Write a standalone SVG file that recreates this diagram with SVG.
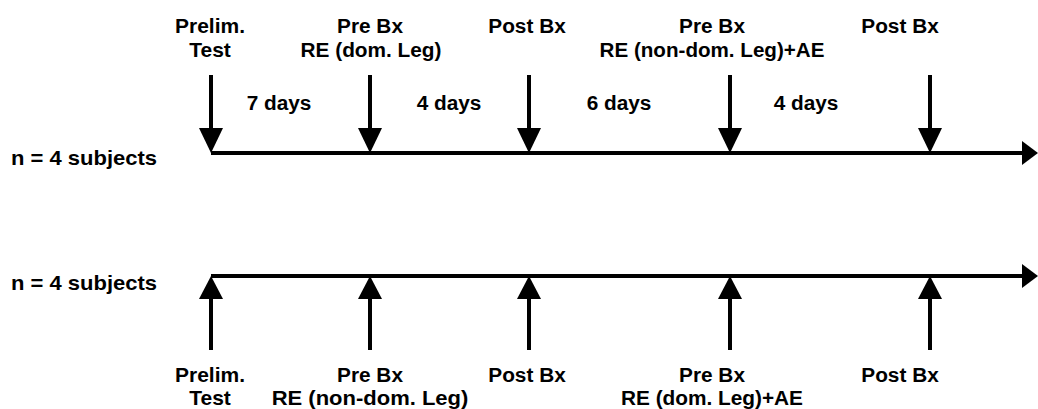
<svg xmlns="http://www.w3.org/2000/svg" width="1038" height="409" viewBox="0 0 1038 409">
<style>
text{font-family:"Liberation Sans",Arial,sans-serif;font-weight:bold;font-size:20px;fill:#000}
.c{text-anchor:middle}
.ln{stroke:#000;stroke-width:4;fill:none}
.hd{fill:#000}
</style>
<rect width="1038" height="409" fill="#fff"/>
<g id="connectors">
<line class="ln" x1="211" y1="153" x2="1025" y2="153"/>
<polygon class="hd" points="1022,141 1038,153 1022,165"/>
<line class="ln" x1="211" y1="276" x2="1025" y2="276"/>
<polygon class="hd" points="1022,264 1038,276 1022,288"/>
<g id="top-arrows">
<line class="ln" x1="211" y1="75" x2="211" y2="130"/><polygon class="hd" points="199,128 223,128 211,153"/>
<line class="ln" x1="370" y1="75" x2="370" y2="130"/><polygon class="hd" points="358,128 382,128 370,153"/>
<line class="ln" x1="529" y1="75" x2="529" y2="130"/><polygon class="hd" points="517,128 541,128 529,153"/>
<line class="ln" x1="730" y1="75" x2="730" y2="130"/><polygon class="hd" points="718,128 742,128 730,153"/>
<line class="ln" x1="930" y1="75" x2="930" y2="130"/><polygon class="hd" points="918,128 942,128 930,153"/>
</g>
<g id="bottom-arrows">
<line class="ln" x1="211" y1="350" x2="211" y2="298"/><polygon class="hd" points="199,299 223,299 211,276"/>
<line class="ln" x1="370" y1="350" x2="370" y2="298"/><polygon class="hd" points="358,299 382,299 370,276"/>
<line class="ln" x1="529" y1="350" x2="529" y2="298"/><polygon class="hd" points="517,299 541,299 529,276"/>
<line class="ln" x1="730" y1="350" x2="730" y2="298"/><polygon class="hd" points="718,299 742,299 730,276"/>
<line class="ln" x1="930" y1="350" x2="930" y2="298"/><polygon class="hd" points="918,299 942,299 930,276"/>
</g>
</g>
<g id="group1-label" transform="translate(11,165) scale(1.1,1)"><text>n = 4 subjects</text></g>
<g id="group2-label" transform="translate(11,290) scale(1.1,1)"><text>n = 4 subjects</text></g>
<g id="t1"><g transform="translate(210,33) scale(1.05,1)"><text class="c">Prelim.</text></g><g transform="translate(210,57) scale(1.05,1)"><text class="c">Test</text></g></g>
<g id="t2"><g transform="translate(370,33) scale(1.04,1)"><text class="c">Pre Bx</text></g><g transform="translate(371,57) scale(1.04,1)"><text class="c">RE (dom. Leg)</text></g></g>
<g id="t3"><g transform="translate(527,33) scale(1.04,1)"><text class="c">Post Bx</text></g></g>
<g id="t4"><g transform="translate(712,33) scale(1.04,1)"><text class="c">Pre Bx</text></g><g transform="translate(712,57) scale(1.03,1)"><text class="c">RE (non-dom. Leg)+AE</text></g></g>
<g id="t5"><g transform="translate(900,33) scale(1.04,1)"><text class="c">Post Bx</text></g></g>
<g id="d1"><g transform="translate(279,110) scale(1.04,1)"><text class="c">7 days</text></g></g>
<g id="d2"><g transform="translate(449,110) scale(1.04,1)"><text class="c">4 days</text></g></g>
<g id="d3"><g transform="translate(619,110) scale(1.04,1)"><text class="c">6 days</text></g></g>
<g id="d4"><g transform="translate(806,110) scale(1.04,1)"><text class="c">4 days</text></g></g>
<g id="b1"><g transform="translate(210,382) scale(1.05,1)"><text class="c">Prelim.</text></g><g transform="translate(210,405) scale(1.05,1)"><text class="c">Test</text></g></g>
<g id="b2"><g transform="translate(370,382) scale(1.04,1)"><text class="c">Pre Bx</text></g><g transform="translate(370,405) scale(1.1,1)"><text class="c">RE (non-dom. Leg)</text></g></g>
<g id="b3"><g transform="translate(527,382) scale(1.04,1)"><text class="c">Post Bx</text></g></g>
<g id="b4"><g transform="translate(712,382) scale(1.04,1)"><text class="c">Pre Bx</text></g><g transform="translate(712,405) scale(1.04,1)"><text class="c">RE (dom. Leg)+AE</text></g></g>
<g id="b5"><g transform="translate(900,382) scale(1.04,1)"><text class="c">Post Bx</text></g></g>
</svg>
